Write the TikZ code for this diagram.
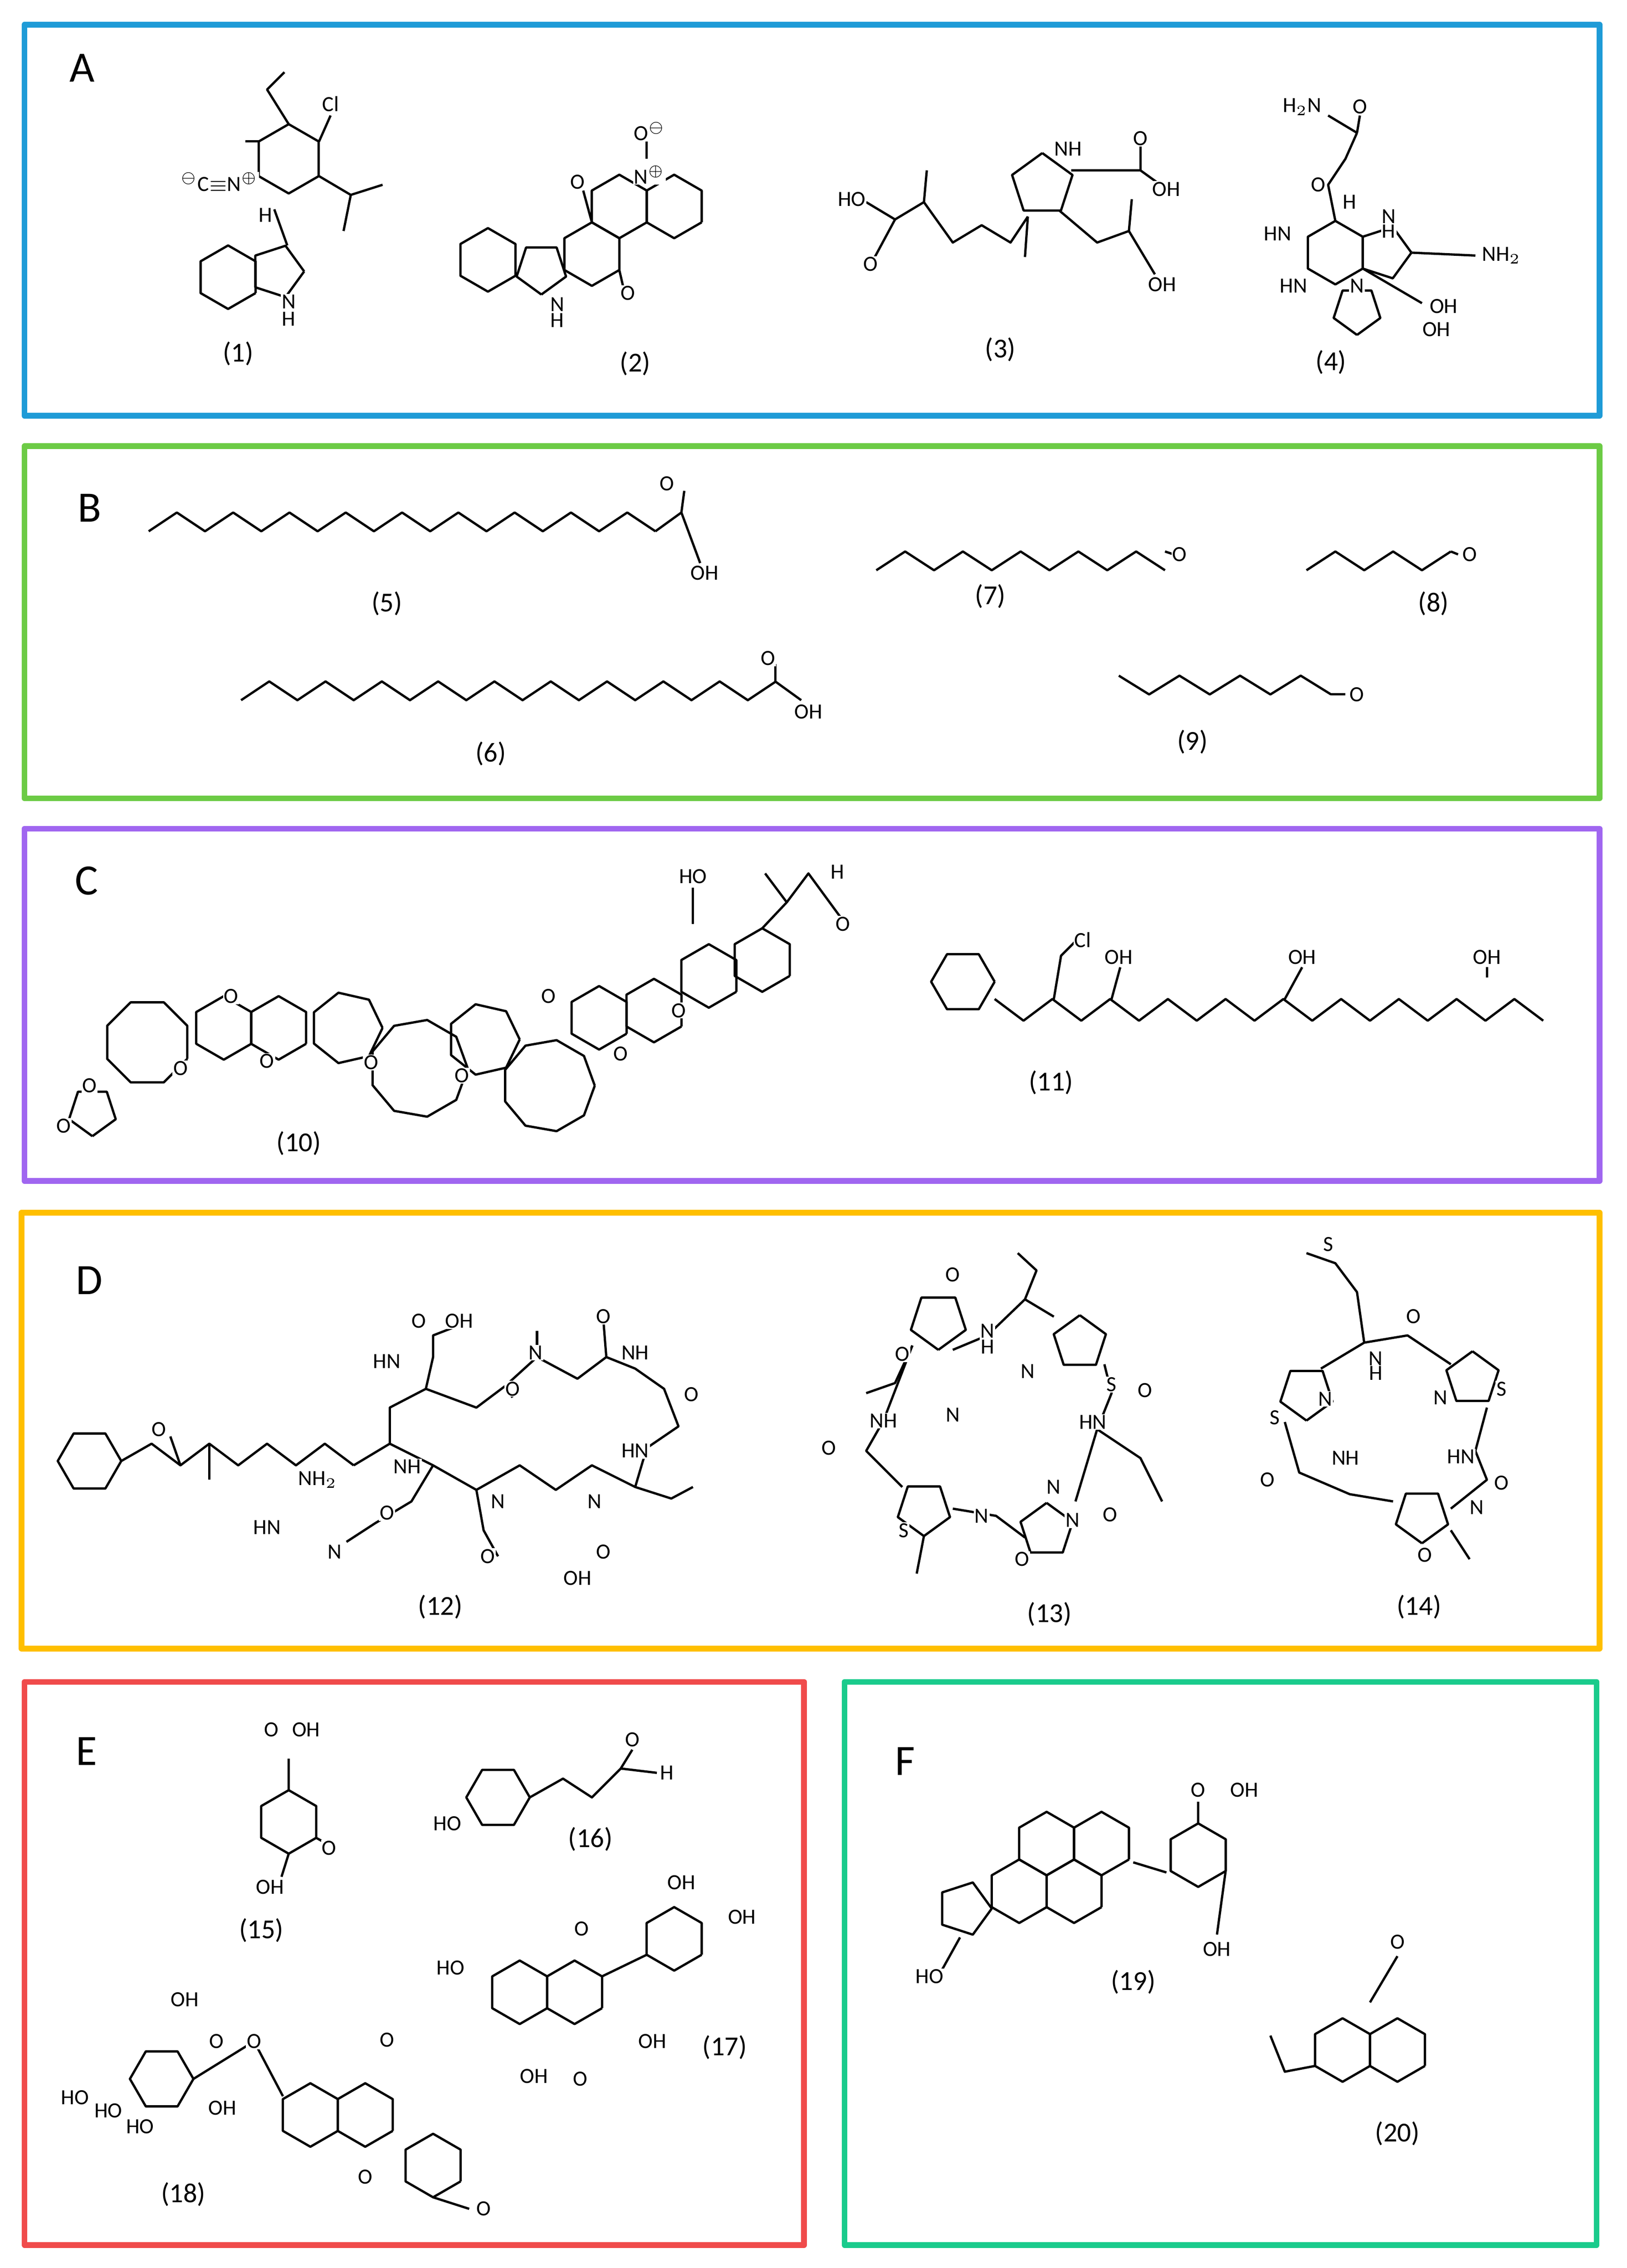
\documentclass[tikz,border=0pt]{standalone}
\usepackage{fontspec}
\setmainfont{Carlito}
\begin{document}
\newcounter{nn}
\newcommand\at[3]{\stepcounter{nn}\node[atom,fill=white] (n\thenn) at (#1,#2) {#3};}
\newcommand\cl[3]{\stepcounter{nn}\node[clab] (n\thenn) at (#1,#2) {#3};}
\newcommand\ring[5]{\draw plot[samples at={0,...,#1}, variable=\k] ({#2+#4*cos(#5+360*\k/#1)},{#3+#4*sin(#5+360*\k/#1)});}
\newcommand\hx[2]{\ring{6}{#1}{#2}{22}{30}}
\newcommand\zig[5]{\draw plot[samples at={0,...,#3}, variable=\k] ({#1+#4*\k},{#2+#5*mod(\k,2)});}
\begin{tikzpicture}[x=0.5pt,y=-0.5pt,line width=0.8pt,line join=round,
 atom/.style={inner sep=0.3pt,font=\fontsize{7.5}{8}\selectfont},
 clab/.style={inner sep=0pt,font=\fontsize{9.5}{10}\selectfont},
 big/.style={inner sep=0pt,font=\fontsize{15}{16}\selectfont},
 box/.style={line width=2pt}]
\useasboundingbox (0,0) rectangle (1127,1571);
\definecolor{cA}{HTML}{1E9BD7}\definecolor{cB}{HTML}{6CCB45}\definecolor{cC}{HTML}{A066F0}
\definecolor{cD}{HTML}{FFBF00}\definecolor{cE}{HTML}{F04B4B}\definecolor{cF}{HTML}{1ACB8C}
\draw[box,cA] (17,17) rectangle (1108,288);
\draw[box,cB] (17,309) rectangle (1108,553);
\draw[box,cC] (17,574) rectangle (1108,818);
\draw[box,cD] (15,840) rectangle (1108,1142);
\draw[box,cE] (17,1165) rectangle (557,1555);
\draw[box,cF] (585,1165) rectangle (1106,1555);
\node[big] (LA) at (57,47) {A};\node[big] (LB) at (62,352) {B};\node[big] (LC) at (60,610) {C};
\node[big] (LD) at (62,887) {D};\node[big] (LE) at (60,1213) {E};\node[big] (LF) at (627,1220) {F};
% ---------- A (1)
\ring{6}{200}{110}{24}{30}\hx{158}{192}\ring{5}{192}{188}{18.7}{0}
\draw (200,86)--(185,62)--(197,50);\draw (221,98)--(229,80);\draw (221,122)--(243,135)--(238,160);\draw (243,135)--(265,128);
\draw (179,122)--(167,128);\draw (179,98)--(170,98);\draw (190,145)--(199,170);
\at{229}{72}{Cl}\at{152}{126}{$^{\ominus}$C$\equiv$N$^{\oplus}$}\at{184}{149}{H}\at{200}{209}{N}\at{200}{221}{H}
\cl{165}{245}{(1)}
% (2)
\hx{338}{180}\ring{5}{375}{186}{18}{90}\hx{410}{176}\hx{429}{143}\hx{467}{143}
\draw (410,154)--(404,132);\draw (429,187)--(432,200);\draw (448,110)--(448,98);
\at{400}{126}{O}\at{435}{203}{O}\at{450}{121}{N$^{\oplus}$}\at{450}{91}{O$^{\ominus}$}\at{386}{211}{N}\at{386}{222}{H}
\cl{440}{252}{(2)}
% (3)
\ring{5}{722}{128}{22}{-90}\draw (600,140)--(620,152)--(640,140)--(660,168)--(680,156)--(700,168)--(712,150);\draw (712,150)--(710,178);
\draw (620,152)--(606,178);\draw (640,140)--(642,118);\draw (742,118)--(790,118)--(808,131);\draw (790,118)--(790,100);\draw (734,146)--(760,168)--(782,160)--(800,190);\draw (782,160)--(784,138);
\at{590}{138}{HO}\at{603}{183}{O}\at{740}{103}{NH}\at{808}{131}{OH}\at{805}{197}{OH}\at{790}{96}{O}
\cl{693}{242}{(3)}
% (4)
\ring{6}{925}{175}{22}{30}\ring{5}{959}{175}{18.7}{0}\ring{5}{940}{215}{17}{90}
\draw (925,153)--(920,128)--(932,110)--(940,92);\draw (940,92)--(942,80);\draw (940,92)--(920,80);
\draw (978,175)--(1022,177);\draw (944,186)--(985,210);
\at{902}{74}{H$_2$N}\at{942}{74}{O}\at{913}{128}{O}\at{935}{140}{H}\at{962}{160}{H}\at{962}{150}{N}\at{885}{162}{HN}\at{1040}{177}{NH$_2$}\at{896}{198}{HN}\at{940}{198}{N}\at{1000}{212}{OH}\at{995}{228}{OH}
\cl{922}{251}{(4)}
% ---------- B
\zig{103}{368}{18}{19.5}{-13}\draw (454,368)--(472,355)--(474,340);\at{462}{335}{O}\draw (472,355)--(485,390);\at{488}{397}{OH}
\cl{268}{418}{(5)}
\zig{607}{395}{10}{20}{-13}\draw (807,382)--(813,384);\at{817}{384}{O}\cl{686}{413}{(7)}
\zig{905}{395}{5}{20}{-13}\draw (1005,382)--(1010,384);\at{1018}{384}{O}\cl{993}{418}{(8)}
\zig{167}{485}{19}{19.5}{-13}\draw (537,472)--(537,460);\at{532}{456}{O}\draw (537,472)--(555,485);\at{560}{493}{OH}\cl{340}{522}{(6)}
\zig{775}{468}{7}{21}{13}\draw (922,481)--(932,481);\at{940}{481}{O}\cl{826}{514}{(9)}
% ---------- C (10)
\ring{5}{64}{770}{17}{90}\ring{8}{102}{722}{30}{22.5}\hx{155}{712}\hx{193}{712}\ring{7}{240}{712}{25}{0}
\ring{9}{290}{740}{34}{0}\ring{7}{335}{720}{25}{0}\ring{9}{380}{752}{32}{0}\hx{415}{705}\hx{453}{700}\hx{491}{676}\hx{528}{665}
\draw (528,643)--(545,625)--(560,605)--(582,635);\draw (545,625)--(530,605);\draw (480,640)--(480,615);
\at{480}{607}{HO}\at{580}{604}{H}\at{584}{640}{O}\at{44}{780}{O}\at{62}{752}{O}\at{160}{690}{O}\at{125}{740}{O}\at{185}{735}{O}\at{257}{736}{O}\at{320}{745}{O}\at{380}{690}{O}\at{470}{700}{O}\at{430}{730}{O}
\cl{207}{792}{(10)}
% (11)
\ring{6}{667}{680}{22}{0}\zig{689}{692}{19}{20}{15}\draw (730,692)--(735,662)--(745,652);\draw (770,692)--(776,670);\draw (890,692)--(902,670);\draw (1030,677)--(1030,670);
\at{750}{651}{Cl}\at{775}{663}{OH}\at{902}{663}{OH}\at{1030}{663}{OH}\cl{728}{750}{(11)}
% ---------- D (12)
\ring{6}{62}{1012}{22}{0}\draw (84,1012)--(105,1000)--(125,1015)--(145,1000)--(165,1015)--(185,1000)--(205,1015)--(225,1000)--(245,1015);\draw (125,1015)--(118,995);\draw (145,1000)--(145,1025);
\draw (245,1015)--(270,1000)--(270,975)--(295,962)--(300,940)--(300,925)--(318,918);\draw (295,962)--(330,975)--(350,960)--(372,940)--(400,955)--(420,940)--(440,948)--(460,962)--(470,988)--(448,1003)--(440,1030)--(410,1015)--(385,1032)--(360,1015)--(330,1032)--(300,1015)--(270,1000);
\draw (300,1015)--(285,1040)--(260,1055)--(240,1068);\draw (330,1032)--(335,1060)--(345,1078);\draw (440,1030)--(465,1038)--(480,1030);\draw (372,940)--(372,922);\draw (420,940)--(418,915);\draw (350,960)--(355,968);
\at{110}{990}{O}\at{290}{915}{O}\at{318}{915}{OH}\at{268}{943}{HN}\at{371}{937}{N}\at{440}{937}{NH}\at{418}{912}{O}\at{355}{962}{O}\at{479}{966}{O}\at{440}{1005}{HN}\at{282}{1016}{NH}\at{220}{1025}{NH$_2$}\at{185}{1058}{HN}\at{232}{1075}{N}\at{345}{1040}{N}\at{268}{1048}{O}\at{412}{1040}{N}\at{418}{1075}{O}\at{338}{1078}{O}\at{400}{1093}{OH}
\cl{305}{1113}{(12)}
% (13)
\ring{5}{650}{915}{20}{90}\ring{5}{748}{930}{19}{-90}\ring{5}{640}{1045}{19}{90}\ring{5}{725}{1060}{19}{-90}
\draw (660,935)--(684,925)--(710,900)--(730,912);\draw (765,945)--(770,965)--(760,990)--(745,1040);\draw (710,1065)--(690,1050)--(660,1045);\draw (625,1030)--(600,1005)--(612,984)--(632,932);
\draw (632,932)--(620,958)--(600,965);\draw (710,900)--(718,880)--(705,868);\draw (760,990)--(790,1010)--(805,1040);\draw (640,1064)--(635,1090);
\at{625}{938}{O}\at{660}{980}{N}\at{660}{883}{O}\at{684}{922}{N}\at{684}{933}{H}\at{712}{950}{N}\at{770}{959}{S}\at{612}{984}{NH}\at{574}{1003}{O}\at{757}{985}{HN}\at{793}{963}{O}\at{743}{1053}{N}\at{626}{1060}{S}\at{680}{1050}{N}\at{708}{1080}{O}\at{769}{1049}{O}\at{730}{1030}{N}
\cl{727}{1118}{(13)}
% (14)
\ring{5}{905}{965}{19}{90}\ring{5}{1020}{955}{19}{-90}\ring{5}{985}{1050}{19}{90}
\draw (915,948)--(945,930)--(975,925)--(1005,945);\draw (1030,975)--(1022,1005)--(1030,1025)--(1005,1045);\draw (965,1040)--(935,1035)--(900,1020)--(890,985);
\draw (945,930)--(940,895)--(925,875)--(905,868);\draw (1005,1060)--(1018,1080);
\at{920}{862}{S}\at{883}{982}{S}\at{918}{969}{N}\at{953}{941}{N}\at{953}{951}{H}\at{979}{912}{O}\at{998}{968}{N}\at{1040}{962}{S}\at{1012}{1009}{HN}\at{1040}{1027}{O}\at{878}{1025}{O}\at{932}{1010}{NH}\at{1023}{1044}{N}\at{987}{1077}{O}
\cl{983}{1113}{(14)}
% ---------- E
\hx{200}{1262}\draw (200,1240)--(200,1218);\draw (219,1273)--(228,1278);\draw (200,1284)--(195,1300);
\at{188}{1198}{O}\at{212}{1198}{OH}\at{228}{1280}{O}\at{187}{1307}{OH}\cl{181}{1337}{(15)}
\ring{6}{345}{1245}{22}{0}\draw (367,1245)--(390,1232)--(410,1245)--(430,1225)--(438,1212);\draw (430,1225)--(455,1228);
\at{310}{1263}{HO}\at{438}{1205}{O}\at{462}{1228}{H}\cl{409}{1274}{(16)}
\hx{360}{1380}\hx{398}{1380}\hx{467}{1343}\draw (417,1369)--(448,1354);
\at{312}{1363}{HO}\at{403}{1336}{O}\at{472}{1304}{OH}\at{514}{1328}{OH}\at{370}{1438}{OH}\at{402}{1440}{O}\at{452}{1414}{OH}\cl{502}{1418}{(17)}
\ring{6}{112}{1440}{22}{0}\hx{215}{1465}\hx{253}{1465}\hx{300}{1500}\draw (134,1440)--(176,1414)--(196,1452);\draw (300,1522)--(325,1530);
\at{128}{1385}{OH}\at{150}{1414}{O}\at{52}{1453}{HO}\at{75}{1462}{HO}\at{97}{1473}{HO}\at{154}{1460}{OH}\at{176}{1414}{O}\at{268}{1413}{O}\at{253}{1508}{O}\at{335}{1530}{O}
\cl{127}{1520}{(18)}
% ---------- F
\ring{5}{668}{1322}{19}{0}\hx{706}{1310}\hx{744}{1310}\hx{725}{1277}\hx{763}{1277}\hx{830}{1285}
\draw (785,1290)--(808,1297);\draw (665,1342)--(650,1369);\draw (830,1263)--(830,1248);\draw (849,1296)--(843,1340);
\at{644}{1369}{HO}\at{830}{1240}{O}\at{862}{1240}{OH}\at{843}{1350}{OH}\cl{785}{1373}{(19)}
\hx{930}{1420}\hx{968}{1420}\draw (949,1387)--(968,1355);\draw (911,1431)--(890,1435)--(880,1410);
\at{968}{1345}{O}\cl{968}{1478}{(20)}
\end{tikzpicture}
\end{document}
